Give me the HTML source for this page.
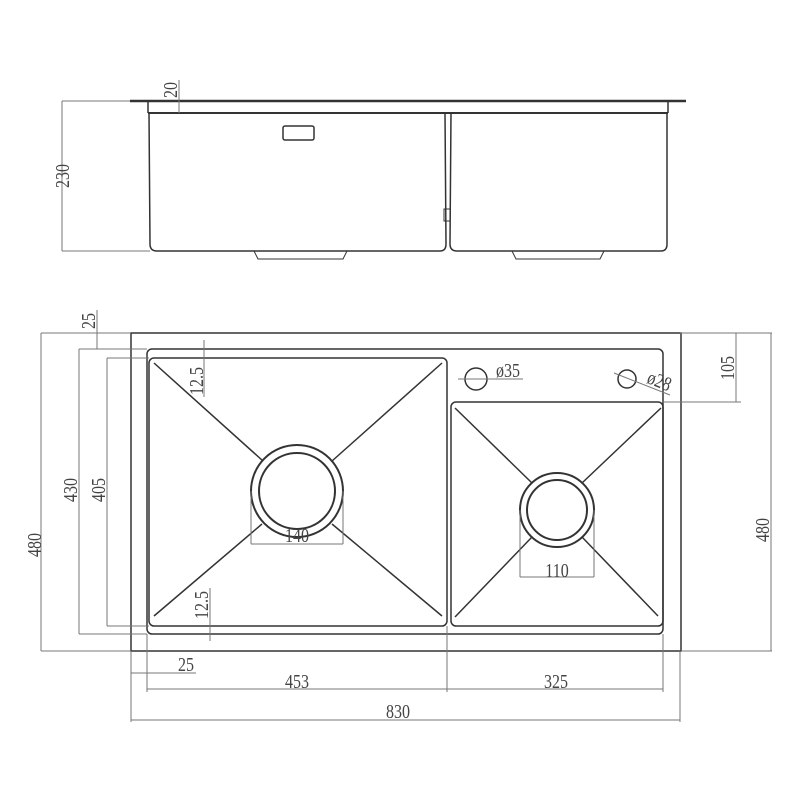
<!DOCTYPE html>
<html><head><style>body{margin:0;background:#fff}svg{display:block}</style></head><body>
<svg width="800" height="800" viewBox="0 0 800 800" xmlns="http://www.w3.org/2000/svg">
<g fill="none" stroke="#333" stroke-width="1.5">
<line x1="130" y1="101" x2="686" y2="101" stroke-width="2.5"/>
<line x1="148" y1="101" x2="148" y2="113"/><line x1="668" y1="101" x2="668" y2="113"/>
<line x1="148" y1="113" x2="668" y2="113" stroke-width="2"/>
<path d="M149 113 L150 244 Q150 251 157 251 L440 251 Q446 251 446 244 L445 113"/>
<path d="M451 113 L450 244 Q450 251 457 251 L661 251 Q667 251 667 244 L667 113"/>
<rect x="283" y="126" width="31" height="14" rx="2"/>
<rect x="444" y="209" width="6" height="12" stroke-width="1"/>
<path d="M254 251 L258 259 L343 259 L347 251" stroke-width="1"/>
<path d="M512 251 L516 259 L600 259 L604 251" stroke-width="1"/>
<rect x="131" y="333" width="550" height="318"/>
<rect x="147" y="349" width="516" height="285" rx="5"/>
<rect x="149" y="358" width="298" height="268" rx="5"/>
<rect x="451" y="402" width="212" height="224" rx="5"/>
<circle cx="297" cy="491" r="46" stroke-width="2"/><circle cx="297" cy="491" r="38" stroke-width="2"/>
<circle cx="557" cy="510" r="37" stroke-width="2"/><circle cx="557" cy="510" r="30" stroke-width="2"/>
<line x1="154" y1="363" x2="263" y2="461"/><line x1="442" y1="363" x2="332" y2="461"/>
<line x1="262" y1="524" x2="154" y2="616"/><line x1="332" y1="524" x2="442" y2="616"/>
<line x1="455" y1="408" x2="532" y2="483"/><line x1="661" y1="408" x2="582" y2="483"/>
<line x1="532" y1="537" x2="455" y2="617"/><line x1="582" y1="537" x2="658" y2="616"/>
<circle cx="476" cy="379" r="11"/><circle cx="627" cy="379" r="9"/>
</g>
<g fill="none" stroke="#777" stroke-width="1">
<line x1="62" y1="101" x2="130" y2="101"/><line x1="62" y1="251" x2="150" y2="251"/><line x1="62" y1="101" x2="62" y2="251"/>
<line x1="179" y1="80" x2="179" y2="113"/>
<line x1="251" y1="491" x2="251" y2="544"/><line x1="343" y1="491" x2="343" y2="544"/><line x1="251" y1="544" x2="343" y2="544"/>
<line x1="520" y1="510" x2="520" y2="577"/><line x1="594" y1="510" x2="594" y2="577"/><line x1="520" y1="577" x2="594" y2="577"/>
<line x1="458" y1="379" x2="523" y2="379"/><line x1="614" y1="373" x2="670" y2="395"/>
<line x1="680" y1="333" x2="741" y2="333"/><line x1="663" y1="402" x2="741" y2="402"/><line x1="736" y1="333" x2="736" y2="402"/>
<line x1="681" y1="333" x2="772" y2="333"/><line x1="681" y1="651" x2="772" y2="651"/><line x1="771" y1="333" x2="771" y2="651"/>
<line x1="41" y1="333" x2="131" y2="333"/><line x1="41" y1="651" x2="131" y2="651"/><line x1="41" y1="333" x2="41" y2="651"/>
<line x1="79" y1="349" x2="147" y2="349"/><line x1="79" y1="634" x2="147" y2="634"/><line x1="79" y1="349" x2="79" y2="634"/>
<line x1="107" y1="358" x2="149" y2="358"/><line x1="107" y1="626" x2="149" y2="626"/><line x1="107" y1="358" x2="107" y2="626"/>
<line x1="97" y1="310" x2="97" y2="349"/>
<line x1="204" y1="340" x2="204" y2="397"/><line x1="210" y1="588" x2="210" y2="641"/>
<line x1="131" y1="651" x2="131" y2="722"/><line x1="147" y1="634" x2="147" y2="692"/><line x1="447" y1="626" x2="447" y2="692"/><line x1="663" y1="634" x2="663" y2="692"/><line x1="680" y1="651" x2="680" y2="722"/>
<line x1="131" y1="673" x2="196" y2="673"/><line x1="147" y1="689" x2="447" y2="689"/><line x1="447" y1="689" x2="663" y2="689"/><line x1="131" y1="720" x2="680" y2="720"/>
</g>
<g font-family="Liberation Serif, serif" font-size="20" fill="#444" text-anchor="middle">
<text x="0" y="0" transform="translate(69,176) rotate(-90) scale(0.8,1)">230</text>
<text x="0" y="0" transform="translate(177,90) rotate(-90) scale(0.8,1)">20</text>
<text x="0" y="0" transform="translate(95,321) rotate(-90) scale(0.8,1)">25</text>
<text x="0" y="0" transform="translate(203,381) rotate(-90) scale(0.8,1)">12.5</text>
<text x="0" y="0" transform="translate(208,605) rotate(-90) scale(0.8,1)">12.5</text>
<text x="0" y="0" transform="translate(41,545) rotate(-90) scale(0.8,1)">480</text>
<text x="0" y="0" transform="translate(77,490) rotate(-90) scale(0.8,1)">430</text>
<text x="0" y="0" transform="translate(105,490) rotate(-90) scale(0.8,1)">405</text>
<text x="0" y="0" transform="translate(734,368) rotate(-90) scale(0.8,1)">105</text>
<text x="0" y="0" transform="translate(769,530) rotate(-90) scale(0.8,1)">480</text>
<text x="0" y="0" transform="translate(297,542) scale(0.8,1)">140</text>
<text x="0" y="0" transform="translate(557,577) scale(0.8,1)">110</text>
<text x="0" y="0" transform="translate(508,377) scale(0.8,1)">ø35</text>
<text x="0" y="0" transform="translate(657,387) rotate(22) scale(0.8,1)">ø28</text>
<text x="0" y="0" transform="translate(186,671) scale(0.8,1)">25</text>
<text x="0" y="0" transform="translate(297,688) scale(0.8,1)">453</text>
<text x="0" y="0" transform="translate(556,688) scale(0.8,1)">325</text>
<text x="0" y="0" transform="translate(398,718) scale(0.8,1)">830</text>
</g>
</svg>
</body></html>
